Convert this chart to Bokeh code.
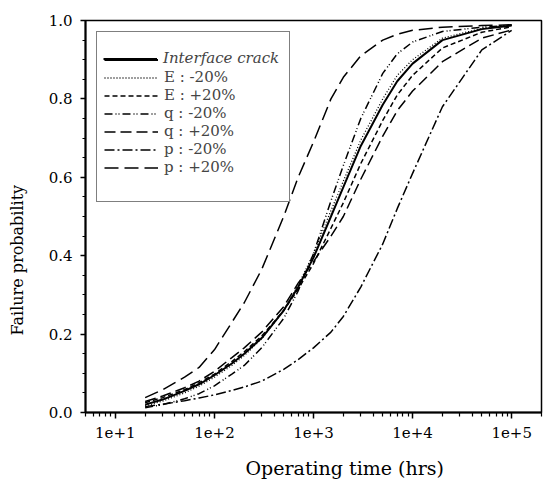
from bokeh.plotting import figure
from bokeh.models import FixedTicker, Legend, LegendItem, Title, Range1d
from bokeh.embed import file_html
from bokeh.resources import INLINE

# ---- data ----
time_hrs = [20, 30, 50, 70, 100, 150, 200, 300, 500, 700, 1000, 1500, 2000,
            3000, 5000, 7000, 10000, 20000, 50000, 100000]
interface_crack = [0.020, 0.033, 0.055, 0.072, 0.095, 0.125, 0.150, 0.190, 0.260, 0.320,
                   0.395, 0.500, 0.575, 0.680, 0.785, 0.845, 0.890, 0.950, 0.978, 0.987]
e_minus_20 = [0.017, 0.029, 0.050, 0.067, 0.090, 0.120, 0.145, 0.188, 0.260, 0.325,
              0.405, 0.515, 0.590, 0.695, 0.800, 0.860, 0.900, 0.955, 0.980, 0.988]
e_plus_20 = [0.025, 0.038, 0.058, 0.076, 0.098, 0.130, 0.155, 0.195, 0.260, 0.315,
             0.380, 0.470, 0.535, 0.635, 0.745, 0.810, 0.860, 0.930, 0.970, 0.984]
q_minus_20 = [0.012, 0.020, 0.035, 0.048, 0.068, 0.098, 0.120, 0.165, 0.240, 0.310,
              0.405, 0.540, 0.630, 0.750, 0.865, 0.915, 0.945, 0.972, 0.983, 0.988]
q_plus_20 = [0.028, 0.042, 0.063, 0.080, 0.105, 0.140, 0.165, 0.205, 0.270, 0.330,
             0.385, 0.450, 0.500, 0.595, 0.705, 0.770, 0.820, 0.895, 0.955, 0.976]
p_minus_20 = [0.015, 0.021, 0.030, 0.037, 0.045, 0.056, 0.065, 0.080, 0.110, 0.135,
              0.165, 0.205, 0.245, 0.320, 0.430, 0.520, 0.610, 0.780, 0.925, 0.975]
p_plus_20 = [0.038, 0.058, 0.090, 0.115, 0.160, 0.230, 0.280, 0.365, 0.500, 0.600,
             0.690, 0.800, 0.855, 0.910, 0.950, 0.965, 0.975, 0.983, 0.987, 0.989]

series_labels = ["Interface crack", "E : -20%", "E : +20%", "q : -20%",
                 "q : +20%", "p : -20%", "p : +20%"]

x_major_ticks = [10, 100, 1000, 10000, 100000]
x_tick_labels = ["1e+1", "1e+2", "1e+3", "1e+4", "1e+5"]
y_major_ticks = [0.0, 0.2, 0.4, 0.6, 0.8, 1.0]
y_tick_labels = ["0.0", "0.2", "0.4", "0.6", "0.8", "1.0"]

x_label = "Operating time (hrs)"
y_label = "Failure probability"

FONT = "DejaVu Serif"

p = figure(width=544, height=484, x_axis_type="log",
           x_range=Range1d(5, 2e5), y_range=Range1d(0, 1),
           output_backend="svg", toolbar_location=None,
           min_border_left=85, min_border_right=3,
           min_border_top=20, min_border_bottom=72)
p.grid.visible = False
p.background_fill_color = "white"
p.border_fill_color = "white"
p.outline_line_color = "black"
p.outline_line_width = 1.5
p.outline_line_alpha = 1

# ticks
x_minor = [k * 10 ** d for d in range(0, 6) for k in range(2, 10)
           if 5 <= k * 10 ** d <= 2e5]
p.xaxis.ticker = FixedTicker(ticks=x_major_ticks, minor_ticks=x_minor)
p.xaxis.major_label_overrides = dict(zip(x_major_ticks, x_tick_labels))
y_minor = [round(i * 0.05, 2) for i in range(0, 21)]
p.yaxis.ticker = FixedTicker(ticks=y_major_ticks, minor_ticks=y_minor)
p.yaxis.major_label_overrides = dict(zip(y_major_ticks, y_tick_labels))

for ax in (p.xaxis[0], p.yaxis[0]):
    ax.axis_line_width = 2
    ax.axis_line_color = "black"
    ax.major_tick_in = 0
    ax.minor_tick_in = 0
    ax.major_tick_line_color = "black"
    ax.minor_tick_line_color = "black"
    ax.major_tick_line_width = 1.5
    ax.minor_tick_line_width = 1.2
    ax.major_label_text_font = FONT
    ax.major_label_text_font_size = "15px"
    ax.major_label_text_color = "black"
p.xaxis.major_tick_out = 6
p.xaxis.minor_tick_out = 4
p.xaxis.major_label_standoff = 8
p.yaxis.major_tick_out = 5
p.yaxis.minor_tick_out = 3
p.yaxis.major_label_standoff = 8

# blank axis labels used only as spacing between tick labels and axis titles
p.xaxis.axis_label = "\u00a0"
p.xaxis.axis_label_text_font_size = "5px"
p.xaxis.axis_label_standoff = 0
p.yaxis.axis_label = "\u00a0"
p.yaxis.axis_label_text_font_size = "8px"
p.yaxis.axis_label_standoff = 2

# axis titles (placed off-centre as in the reference)
xt = Title(text=x_label, align="left", offset=160, text_font=FONT,
           text_font_size="19px", text_font_style="normal", text_color="black")
p.add_layout(xt, "below")
yt = Title(text=y_label, align="left", offset=77, text_font=FONT,
           text_font_size="16px", text_font_style="normal", text_color="black")
p.add_layout(yt, "left")

# curves
ys = [interface_crack, e_minus_20, e_plus_20, q_minus_20, q_plus_20, p_minus_20, p_plus_20]
dashes = ["solid", "1 2", "5 3", "8 3 1 2 1 3", "11 5", "10 3 2 3", "14 6"]
widths = [2, 1.3, 1.5, 1.5, 1.5, 1.5, 1.5]
rends = []
for y, d, w in zip(ys, dashes, widths):
    r = p.line(time_hrs, y, line_color="black", line_width=w, line_dash=d)
    rends.append(r)

common = dict(location="top_left", margin=11, padding=7, glyph_width=54,
              glyph_height=17, label_height=17, spacing=0, label_standoff=6,
              title="\u00a0", title_text_font_size="9px", title_standoff=1)

items_main = [LegendItem(label="\u00a0", renderers=[rends[0]])]
for lab, r in zip(series_labels[1:], rends[1:]):
    items_main.append(LegendItem(label=lab, renderers=[r]))
items_main.append(LegendItem(label="\u00a0", renderers=[]))
leg_main = Legend(items=items_main, label_width=118,
                  label_text_font=FONT, label_text_font_size="15px",
                  border_line_color="black", border_line_width=1.5,
                  background_fill_color="white", background_fill_alpha=1,
                  **common)
leg_top = Legend(items=[LegendItem(label=series_labels[0], renderers=[rends[0]])],
                 label_text_font=FONT, label_text_font_size="15px",
                 label_text_font_style="italic",
                 border_line_alpha=0, background_fill_alpha=0,
                 **common)
p.add_layout(leg_main)
p.add_layout(leg_top)

open("out.html", "w").write(file_html(p, INLINE))
